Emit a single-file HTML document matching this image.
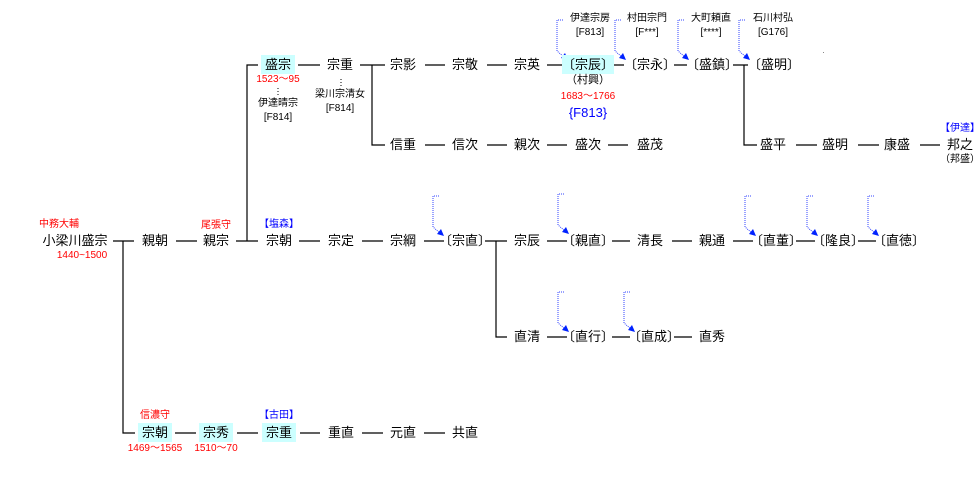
<!DOCTYPE html>
<html><head><meta charset="utf-8"><style>
body{margin:0;width:979px;height:486px;background:#fff;position:relative;overflow:hidden;font-family:"Liberation Sans","Noto Sans CJK JP",sans-serif;}
.t{position:absolute;width:80px;text-align:center;font-size:13px;line-height:16px;color:#000;white-space:nowrap}
.s{position:absolute;width:80px;text-align:center;font-size:10px;line-height:12px;color:#000;white-space:nowrap}
.r{color:#f00}.b{color:#00f}
.hl{background:#ccffff;padding:2px 4px}
svg{position:absolute;left:0;top:0}
</style></head><body>
<svg width="979" height="486">
<g stroke="#000" stroke-width="1.2" fill="none">
<!-- row1 -->
<path d="M298 65H320M360 65H385M372 65V145H385M425 65H445M487 65H507M547 65H567M612 65H624M674 65H687M733 65H748M744 65V145H757"/>
<!-- row2 -->
<path d="M425 145H445M487 145H507M547 145H567M608 145H628M796 145H817M858 145H879M920 145H940"/>
<!-- main vertical 盛宗 -->
<path d="M258 65H247V241M236 241H258"/>
<!-- row3 -->
<path d="M113 241H134M123 241V433H135M176 241H197M299 241H320M362 241H383M424 241H444M485 241H507M496 241V337H507M547 241H567M612 241H630M672 241H692M733 241H753M796 241H815M858 241H876"/>
<!-- row4 -->
<path d="M547 337H567M612 337H630M674 337H692"/>
<!-- row5 -->
<path d="M175 433H196M237 433H258M300 433H320M362 433H383M424 433H445"/>
</g>
<g stroke="#000" stroke-width="1" stroke-dasharray="1,2" fill="none">
<path d="M278 88V96M341 79V87"/>
</g>
<g stroke="#3344ff" stroke-width="1" stroke-dasharray="1,1" fill="none">
<path d="M563 20H557V51L564 57M621 20H615V51L622 57M684 20H678V51L685 57M745 20H739V51L746 57"/>
<path d="M439 196H433V227L440 233M564 194H558V225L565 231M751 196H745V227L752 233M813 196H807V227L814 233M874 196H868V227L875 233"/>
<path d="M564 292H558V323L565 329M630 292H624V323L631 329"/>
</g>
<g fill="#0022ff">
<path d="M568 60L561 58L565 53Z"/><path d="M626 60L619 58L623 53Z"/><path d="M689 60L682 58L686 53Z"/><path d="M750 60L743 58L747 53Z"/>
<path d="M444 236L437 234L441 229Z"/><path d="M569 234L562 232L566 227Z"/><path d="M756 236L749 234L753 229Z"/><path d="M818 236L811 234L815 229Z"/><path d="M879 236L872 234L876 229Z"/>
<path d="M569 332L562 330L566 325Z"/><path d="M635 332L628 330L632 325Z"/>
</g>
<rect x="823" y="52" width="1" height="1" fill="#888"/>
</svg>

<!-- row1 -->
<div class="t" style="left:238px;top:57px"><span class="hl">盛宗</span></div>
<div class="s r" style="left:238px;top:74px">1523～95</div>
<div class="s" style="left:238px;top:98px">伊達晴宗</div>
<div class="s" style="left:238px;top:112px">[F814]</div>
<div class="t" style="left:300px;top:57px">宗重</div>
<div class="s" style="left:292px;top:89px;width:96px">梁川宗清女</div>
<div class="s" style="left:300px;top:103px">[F814]</div>
<div class="t" style="left:363px;top:57px">宗影</div>
<div class="t" style="left:425px;top:57px">宗敬</div>
<div class="t" style="left:487px;top:57px">宗英</div>
<div class="t" style="left:548px;top:57px"><span class="hl" style="padding:2px 0">〔宗辰〕</span></div>
<div class="s" style="left:548px;top:74px;font-size:11px">（村興）</div>
<div class="s r" style="left:548px;top:91px">1683～1766</div>
<div class="t b" style="left:548px;top:105px">{F813}</div>
<div class="t" style="left:610px;top:57px">〔宗永〕</div>
<div class="t" style="left:672px;top:57px">〔盛鎮〕</div>
<div class="t" style="left:734px;top:57px">〔盛明〕</div>
<div class="s" style="left:550px;top:13px">伊達宗房</div><div class="s" style="left:550px;top:27px">[F813]</div>
<div class="s" style="left:607px;top:13px">村田宗門</div><div class="s" style="left:607px;top:27px">[F***]</div>
<div class="s" style="left:671px;top:13px">大町頼直</div><div class="s" style="left:671px;top:27px">[****]</div>
<div class="s" style="left:733px;top:13px">石川村弘</div><div class="s" style="left:733px;top:27px">[G176]</div>
<!-- row2 -->
<div class="t" style="left:363px;top:137px">信重</div>
<div class="t" style="left:425px;top:137px">信次</div>
<div class="t" style="left:487px;top:137px">親次</div>
<div class="t" style="left:548px;top:137px">盛次</div>
<div class="t" style="left:610px;top:137px">盛茂</div>
<div class="t" style="left:733px;top:137px">盛平</div>
<div class="t" style="left:795px;top:137px">盛明</div>
<div class="t" style="left:857px;top:137px">康盛</div>
<div class="t" style="left:920px;top:137px">邦之</div>
<div class="s b" style="left:920px;top:123px">【伊達】</div>
<div class="s" style="left:920px;top:154px">（邦盛）</div>
<!-- row3 -->
<div class="s r" style="left:19px;top:219px">中務大輔</div>
<div class="t" style="left:35px;top:233px">小梁川盛宗</div>
<div class="s r" style="left:42px;top:250px">1440~1500</div>
<div class="t" style="left:115px;top:233px">親朝</div>
<div class="s r" style="left:176px;top:220px">尾張守</div>
<div class="t" style="left:176px;top:233px">親宗</div>
<div class="s b" style="left:239px;top:219px">【塩森】</div>
<div class="t" style="left:239px;top:233px">宗朝</div>
<div class="t" style="left:301px;top:233px">宗定</div>
<div class="t" style="left:363px;top:233px">宗綱</div>
<div class="t" style="left:425px;top:233px">〔宗直〕</div>
<div class="t" style="left:487px;top:233px">宗辰</div>
<div class="t" style="left:548px;top:233px">〔親直〕</div>
<div class="t" style="left:610px;top:233px">清長</div>
<div class="t" style="left:672px;top:233px">親通</div>
<div class="t" style="left:736px;top:233px">〔直董〕</div>
<div class="t" style="left:798px;top:233px">〔隆良〕</div>
<div class="t" style="left:859px;top:233px">〔直徳〕</div>
<!-- row4 -->
<div class="t" style="left:487px;top:329px">直清</div>
<div class="t" style="left:548px;top:329px">〔直行〕</div>
<div class="t" style="left:614px;top:329px">〔直成〕</div>
<div class="t" style="left:672px;top:329px">直秀</div>
<!-- row5 -->
<div class="s r" style="left:115px;top:410px">信濃守</div>
<div class="t" style="left:115px;top:425px"><span class="hl">宗朝</span></div>
<div class="s r" style="left:115px;top:443px">1469～1565</div>
<div class="t" style="left:176px;top:425px"><span class="hl">宗秀</span></div>
<div class="s r" style="left:176px;top:443px">1510～70</div>
<div class="s b" style="left:239px;top:410px">【古田】</div>
<div class="t" style="left:239px;top:425px"><span class="hl">宗重</span></div>
<div class="t" style="left:301px;top:425px">重直</div>
<div class="t" style="left:363px;top:425px">元直</div>
<div class="t" style="left:425px;top:425px">共直</div>
</body></html>
